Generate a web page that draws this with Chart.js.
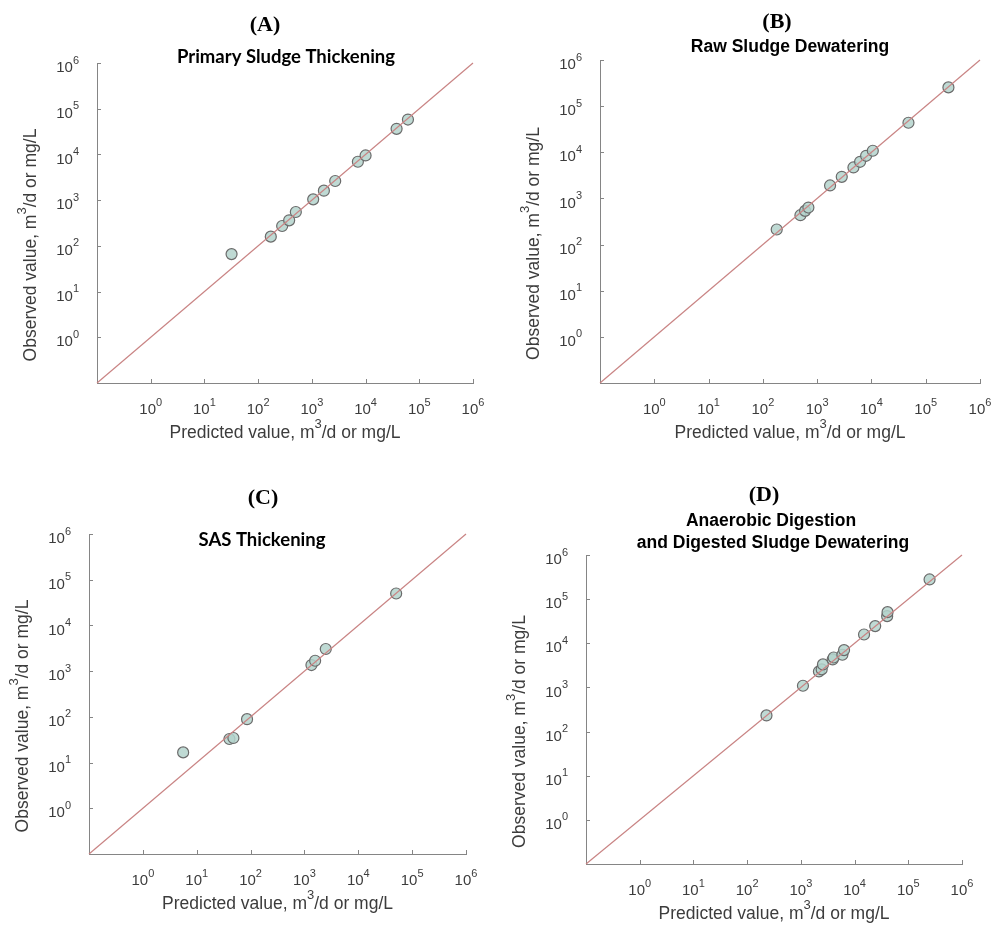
<!DOCTYPE html>
<html>
<head>
<meta charset="utf-8">
<script src="https://cdn.jsdelivr.net/npm/chart.js@4.4.1/dist/chart.umd.min.js"></script>
<style>
  html, body { margin: 0; padding: 0; background: #fff; }
  #page { position: relative; width: 995px; height: 926px; overflow: hidden; }
  #page canvas { position: absolute; }
</style>
</head>
<body>
<div id="page">
  <canvas id="cA"></canvas>
  <canvas id="cB"></canvas>
  <canvas id="cC"></canvas>
  <canvas id="cD"></canvas>
</div>
<script>
// decade ticks shared by all four panels
const decades   = [1, 10, 100, 1e3, 1e4, 1e5, 1e6];
const exponents = ['0', '1', '2', '3', '4', '5', '6'];
const axisRange = [0.1, 1e6];   // also the ends of the 1:1 line

// (A) Primary Sludge Thickening
const predA = [32, 172, 280, 378, 503, 1059, 1675, 2720, 7190, 10000, 37800, 61500];
const obsA  = [66, 159, 272, 362, 551, 1040, 1610, 2620, 6920, 9500, 36300, 58000];

// (B) Raw Sludge Dewatering
const predB = [180, 492, 600, 690, 1730, 2840, 4660, 6180, 7980, 10600, 48100, 262000];
const obsB  = [212, 433, 538, 635, 1910, 2940, 4690, 6220, 8400, 10800, 43700, 255000];

// (C) SAS Thickening
const predC = [5.6, 40.5, 48, 86, 1350, 1580, 2490, 50500];
const obsC  = [16.7, 32.8, 34.5, 89, 1360, 1690, 3050, 50000];

// (D) Anaerobic Digestion and Digested Sludge Dewatering
const predD = [229, 1094, 2170, 2440, 2580, 3910, 4080, 5930, 6370, 15000, 24200, 40400, 41100, 249000];
const obsD  = [232, 1091, 2300, 2560, 3320, 4300, 4770, 5500, 7000, 15800, 24500, 41200, 50800, 279000];

const X_TITLE = [['Predicted value, m'], ['3', true], ['/d or mg/L']];
const Y_TITLE = [['Observed value, m'], ['3', true], ['/d or mg/L']];

const AXIS_COLOR  = '#858585';
const LABEL_COLOR = '#3c3c3c';
const LINE_COLOR  = '#c98484';
const SANS  = '"Liberation Sans", Arial, sans-serif';
const SERIF = '"Liberation Serif", "Times New Roman", serif';
const CALIB = 'bold 18.5px Lato, "Open Sans", sans-serif';

const panels = [
  { id: 'cA', letter: '(A)', title: ['Primary Sludge Thickening'], pred: predA, obs: obsA,
    box: [0, 0, 497, 460], pad: { left: 97, top: 63, right: 24, bottom: 77 },
    letterAt: [265, 25], titleAt: [[286, 57]], titleFont: CALIB },
  { id: 'cB', letter: '(B)', title: ['Raw Sludge Dewatering'], pred: predB, obs: obsB,
    box: [497, 0, 498, 460], pad: { left: 103, top: 60, right: 15, bottom: 77 },
    letterAt: [280, 22], titleAt: [[293, 47]], titleFont: 'bold 17.5px ' + SANS },
  { id: 'cC', letter: '(C)', title: ['SAS Thickening'], pred: predC, obs: obsC,
    box: [0, 460, 497, 466], pad: { left: 89, top: 74, right: 31, bottom: 72 },
    letterAt: [263, 38], titleAt: [[262, 80]], titleFont: CALIB },
  { id: 'cD', letter: '(D)', title: ['Anaerobic Digestion', 'and Digested Sludge Dewatering'], pred: predD, obs: obsD,
    box: [497, 460, 498, 466], pad: { left: 89, top: 95, right: 33, bottom: 62 },
    letterAt: [267, 35], titleAt: [[274, 61], [276, 83]], titleFont: 'bold 17.5px ' + SANS },
];

// draw text made of [text, isSuperscript] parts, anchored by align at (x, y)
function drawRich(ctx, parts, x, y, size, align) {
  const big = size + 'px ' + SANS, small = Math.round(size * 0.72) + 'px ' + SANS;
  const widths = parts.map(([t, sup]) => { ctx.font = sup ? small : big; return ctx.measureText(t).width; });
  const total = widths.reduce((a, b) => a + b, 0);
  let cx = align === 'center' ? x - total / 2 : align === 'right' ? x - total : x;
  ctx.textAlign = 'left';
  ctx.textBaseline = 'middle';
  parts.forEach(([t, sup], i) => {
    ctx.font = sup ? small : big;
    ctx.fillText(t, cx, sup ? y - size * 0.5 : y);
    cx += widths[i];
  });
}

const decorPlugin = {
  id: 'decor',
  afterDraw(chart, args, opts) {
    const { ctx, chartArea: a, scales: { x, y } } = chart;
    const p = opts.panel;
    ctx.save();

    // inward ticks at each decade
    ctx.strokeStyle = AXIS_COLOR;
    ctx.lineWidth = 1;
    ctx.beginPath();
    decades.forEach(v => {
      const px = Math.round(x.getPixelForValue(v)) + 0.5;
      const py = Math.round(y.getPixelForValue(v)) + 0.5;
      ctx.moveTo(px, a.bottom); ctx.lineTo(px, a.bottom - 4);
      ctx.moveTo(a.left, py);   ctx.lineTo(a.left + 4, py);
    });
    ctx.stroke();

    // tick labels 10^n
    ctx.fillStyle = LABEL_COLOR;
    decades.forEach((v, i) => {
      drawRich(ctx, [['10'], [exponents[i], true]], x.getPixelForValue(v), a.bottom + 27, 15, 'center');
      drawRich(ctx, [['10'], [exponents[i], true]], a.left - 18, y.getPixelForValue(v) + 5, 15, 'right');
    });

    // axis titles
    drawRich(ctx, X_TITLE, (a.left + a.right) / 2, a.bottom + 50, 17.5, 'center');
    ctx.save();
    ctx.translate(a.left - 66, (a.top + a.bottom) / 2 + 22);
    ctx.rotate(-Math.PI / 2);
    drawRich(ctx, Y_TITLE, 0, 0, 17.5, 'center');
    ctx.restore();

    // panel letter and heading
    ctx.fillStyle = '#000';
    ctx.textAlign = 'center';
    ctx.textBaseline = 'middle';
    ctx.font = 'bold 22px ' + SERIF;
    ctx.fillText(p.letter, p.letterAt[0], p.letterAt[1]);
    ctx.font = p.titleFont;
    p.title.forEach((line, i) => ctx.fillText(line, p.titleAt[i][0], p.titleAt[i][1]));
    ctx.restore();
  }
};

function logAxis() {
  return {
    type: 'logarithmic',
    min: axisRange[0],
    max: axisRange[1],
    afterBuildTicks: s => { s.ticks = decades.map(v => ({ value: v })); },
    ticks: { display: false },
    grid: { display: false, drawTicks: false, tickLength: 0 },
    border: { display: true, color: AXIS_COLOR, width: 1 },
    title: { display: false },
  };
}

panels.forEach(p => {
  const cv = document.getElementById(p.id);
  const [left, top, w, h] = p.box;
  cv.width = w; cv.height = h;
  cv.style.left = left + 'px'; cv.style.top = top + 'px';
  cv.style.width = w + 'px'; cv.style.height = h + 'px';

  new Chart(cv.getContext('2d'), {
    type: 'scatter',
    data: {
      datasets: [
        {
          type: 'line',
          data: axisRange.map(v => ({ x: v, y: v })),
          borderColor: LINE_COLOR,
          borderWidth: 1.2,
          pointRadius: 0,
          fill: false,
        },
        {
          data: p.pred.map((v, i) => ({ x: v, y: p.obs[i] })),
          pointRadius: 5.5,
          pointBorderWidth: 1.2,
          pointBackgroundColor: 'rgba(180, 212, 204, 0.85)',
          pointBorderColor: '#6b6b6b',
        },
      ],
    },
    options: {
      responsive: false,
      animation: false,
      devicePixelRatio: 1,
      layout: { padding: p.pad, autoPadding: false },
      clip: false,
      scales: { x: logAxis(), y: logAxis() },
      plugins: {
        legend: { display: false },
        tooltip: { enabled: false },
        decor: { panel: p },
      },
    },
    plugins: [decorPlugin],
  });
});
</script>
</body>
</html>
